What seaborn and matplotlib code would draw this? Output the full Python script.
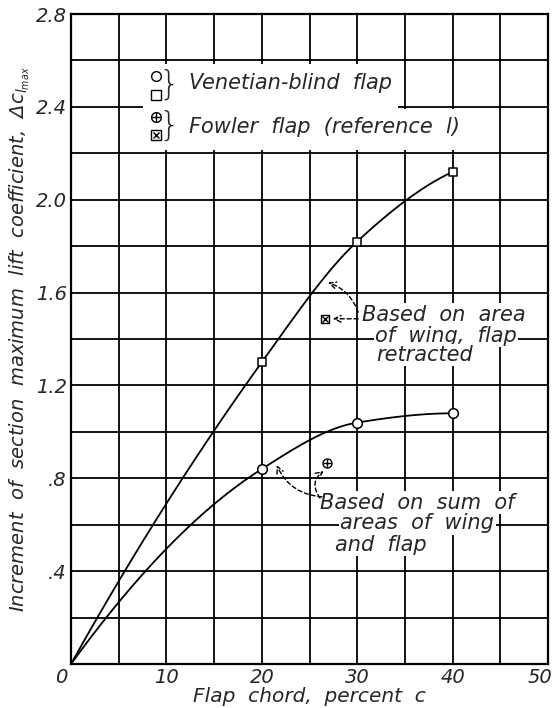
import numpy as np
import pandas as pd
import seaborn as sns
import matplotlib
matplotlib.use("Agg")
import matplotlib.pyplot as plt
from matplotlib.patches import Rectangle
from matplotlib.transforms import ScaledTranslation

# ---- data ----
flap_chord = [0, 20, 30, 40]
dcl_wing_area = [0, 1.30, 1.82, 2.12]      # based on area of wing, flap retracted (squares)
dcl_sum_area = [0, 0.84, 1.04, 1.08]       # based on sum of areas of wing and flap (circles)
fowler_chord = [26.6, 26.8]
fowler_dcl = [1.485, 0.865]                # crossed square, circled plus

x_ticks = [0, 5, 10, 15, 20, 25, 30, 35, 40, 45, 50]
x_ticklabels = ["0", "", "10", "", "20", "", "30", "", "40", "", "50"]
y_ticks = [0, 0.2, 0.4, 0.6, 0.8, 1.0, 1.2, 1.4, 1.6, 1.8, 2.0, 2.2, 2.4, 2.6, 2.8]
y_ticklabels = ["", "", ".4", "", ".8", "", "1.2", "", "1.6", "", "2.0", "", "2.4", "", "2.8"]


def pchip(x, y, xs):
    """Monotone cubic (Fritsch-Carlson) fairing through the measured points."""
    x = np.asarray(x, float)
    y = np.asarray(y, float)
    h = np.diff(x)
    d = np.diff(y) / h
    n = len(x)
    m = np.zeros(n)
    for k in range(1, n - 1):
        if d[k - 1] * d[k] > 0:
            w1 = 2 * h[k] + h[k - 1]
            w2 = h[k] + 2 * h[k - 1]
            m[k] = (w1 + w2) / (w1 / d[k - 1] + w2 / d[k])
    def end(h0, h1, d0, d1):
        v = ((2 * h0 + h1) * d0 - h0 * d1) / (h0 + h1)
        if np.sign(v) != np.sign(d0):
            v = 0.0
        elif np.sign(d0) != np.sign(d1) and abs(v) > abs(3 * d0):
            v = 3 * d0
        return v
    m[0] = end(h[0], h[1], d[0], d[1])
    m[-1] = end(h[-1], h[-2], d[-1], d[-2])
    out = np.empty_like(xs)
    for i, xv in enumerate(xs):
        k = min(np.searchsorted(x, xv, side="right") - 1, n - 2)
        t = (xv - x[k]) / h[k]
        h00 = 2 * t**3 - 3 * t**2 + 1
        h10 = t**3 - 2 * t**2 + t
        h01 = -2 * t**3 + 3 * t**2
        h11 = t**3 - t**2
        out[i] = h00 * y[k] + h10 * h[k] * m[k] + h01 * y[k + 1] + h11 * h[k] * m[k + 1]
    return out


sns.set_theme(style="white")
plt.rcParams["font.family"] = ["DejaVu Sans"]
plt.rcParams["font.style"] = "italic"
plt.rcParams["mathtext.fontset"] = "dejavusans"

fig = plt.figure(figsize=(5.58, 7.08), dpi=100)
ax = fig.add_axes([71 / 558, 1 - 664 / 708, 477 / 558, 650 / 708])

xs = np.linspace(0, 40, 300)
curve_df = pd.concat([
    pd.DataFrame({"x": xs, "y": pchip(flap_chord, dcl_wing_area, xs), "basis": "wing"}),
    pd.DataFrame({"x": xs, "y": pchip(flap_chord, dcl_sum_area, xs), "basis": "sum"}),
])
sns.lineplot(data=curve_df, x="x", y="y", units="basis", estimator=None,
             color="black", lw=1.3, ax=ax, zorder=3)

pts = pd.DataFrame({"x": flap_chord[1:], "wing": dcl_wing_area[1:], "sum": dcl_sum_area[1:]})
sns.scatterplot(data=pts, x="x", y="wing", marker="s", s=40, facecolor="white",
                edgecolor="black", linewidth=1.1, ax=ax, zorder=4)
sns.scatterplot(data=pts, x="x", y="sum", marker="o", s=48, facecolor="white",
                edgecolor="black", linewidth=1.1, ax=ax, zorder=4)

# Fowler points
ax.plot(fowler_chord[0], fowler_dcl[0], marker="s", ms=6, mfc="white", mec="black", mew=1.0, zorder=4)
ax.plot(fowler_chord[0], fowler_dcl[0], marker="x", ms=4, mec="black", mew=1.0, zorder=5)
ax.plot(fowler_chord[1], fowler_dcl[1], marker="o", ms=6.5, mfc="white", mec="black", mew=1.0, zorder=4)
ax.plot(fowler_chord[1], fowler_dcl[1], marker="+", ms=6, mec="black", mew=1.0, zorder=5)

ax.set_xlim(0, 50)
ax.set_ylim(0, 2.8)
ax.set_xticks(x_ticks)
ax.set_xticklabels(x_ticklabels)
ax.set_yticks(y_ticks)
ax.set_yticklabels(y_ticklabels)
ax.tick_params(length=0, labelsize=14, pad=3)
ax.set_axisbelow(True)
ax.grid(True, color="black", lw=1.3)
for sp in ax.spines.values():
    sp.set_color("black")
    sp.set_linewidth(1.6)

xlabs = ax.get_xticklabels()
xlabs[0].set_transform(xlabs[0].get_transform() + ScaledTranslation(-10 / 100, 0, fig.dpi_scale_trans))
xlabs[-1].set_transform(xlabs[-1].get_transform() + ScaledTranslation(-8 / 100, 0, fig.dpi_scale_trans))

ax.set_xlabel("Flap  chord,  percent  c", fontsize=14.5, labelpad=0)
ax.set_ylabel(r"Increment  of  section  maximum  lift  coefficient,  $\Delta c_{l_{max}}$",
              fontsize=14, labelpad=3)

# legend block
ax.add_patch(Rectangle((7.5, 2.215), 34.3 - 7.5, 2.585 - 2.215, facecolor="white",
                       edgecolor="none", zorder=1))
ax.add_patch(Rectangle((34.3, 2.215), 42.8 - 34.3, 2.392 - 2.215, facecolor="white",
                       edgecolor="none", zorder=1))
lx = 8.96
ax.plot(lx, 2.533, marker="o", ms=7, mfc="white", mec="black", mew=1.0, zorder=4)
ax.plot(lx, 2.452, marker="s", ms=6.5, mfc="white", mec="black", mew=1.0, zorder=4)
ax.plot(lx, 2.357, marker="o", ms=7, mfc="white", mec="black", mew=1.0, zorder=4)
ax.plot(lx, 2.357, marker="+", ms=7, mec="black", mew=1.0, zorder=5)
ax.plot(lx, 2.279, marker="s", ms=6.5, mfc="white", mec="black", mew=1.0, zorder=4)
ax.plot(lx, 2.279, marker="x", ms=4.5, mec="black", mew=1.0, zorder=5)
ax.text(10.3, 2.492, "}", fontsize=24, style="normal", fontweight="light",
        ha="center", va="center", zorder=5)
ax.text(10.3, 2.316, "}", fontsize=24, style="normal", fontweight="light",
        ha="center", va="center", zorder=5)
ax.text(12.4, 2.503, "Venetian-blind  flap", fontsize=15, ha="left", va="center", zorder=5)
ax.text(12.4, 2.314, "Fowler  flap  (reference  l)", fontsize=15, ha="left", va="center", zorder=5)

# annotations
box = dict(facecolor="white", edgecolor="none", pad=1.0)
for txt, x, y in [("Based  on  area", 39.1, 1.504), ("of  wing,  flap", 39.3, 1.413),
                  ("retracted", 37.1, 1.331),
                  ("Based  on  sum  of", 36.3, 0.694), ("areas  of  wing", 36.3, 0.607),
                  ("and  flap", 32.5, 0.513)]:
    ax.text(x, y, txt, fontsize=15, ha="center", va="center", bbox=box, zorder=5)

ap = dict(arrowstyle="->", color="black", lw=1.0, ls=(0, (3, 2)), shrinkA=0, shrinkB=1)
ax.annotate("", xy=(26.8, 1.645), xytext=(30.1, 1.515),
            arrowprops=dict(ap, connectionstyle="arc3,rad=0.25"), zorder=6)
ax.annotate("", xy=(27.3, 1.487), xytext=(30.1, 1.487),
            arrowprops=dict(ap, connectionstyle="arc3,rad=0"), zorder=6)
ax.annotate("", xy=(21.5, 0.862), xytext=(26.3, 0.72),
            arrowprops=dict(ap, connectionstyle="arc3,rad=-0.3"), zorder=6)
ax.annotate("", xy=(26.6, 0.835), xytext=(26.1, 0.715),
            arrowprops=dict(ap, connectionstyle="arc3,rad=-0.5"), zorder=6)

fig.savefig("out.png", dpi=100)
